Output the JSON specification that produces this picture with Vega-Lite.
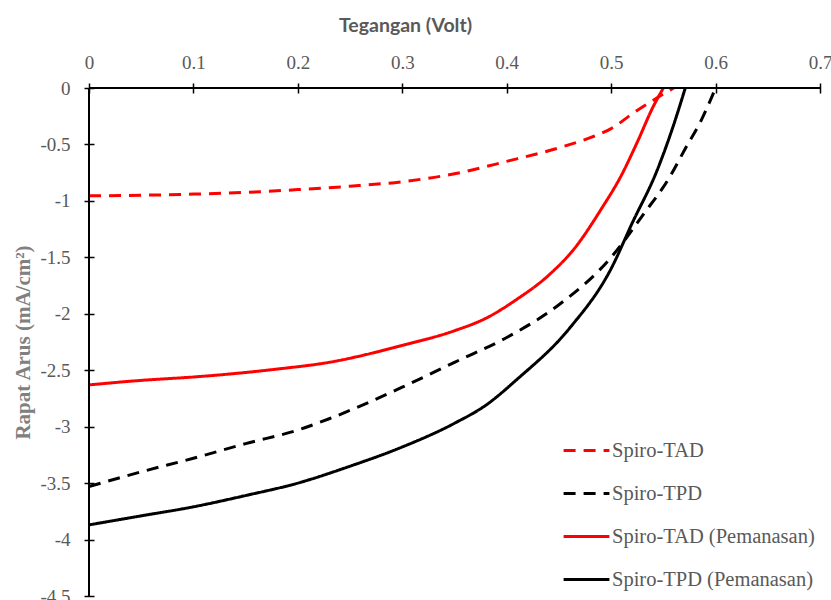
{
  "$schema": "https://vega.github.io/schema/vega-lite/v6.json",
  "width": 731,
  "height": 508,
  "autosize": {"type": "none"},
  "padding": {"left": 89, "top": 88, "right": 11, "bottom": 4},
  "background": "white",
  "config": {"view": {"stroke": null}},
  "data": {"values": [
    {"series": "Spiro-TAD", "v": 0, "j": -0.955},
    {"series": "Spiro-TAD", "v": 0.05, "j": -0.95},
    {"series": "Spiro-TAD", "v": 0.1, "j": -0.94},
    {"series": "Spiro-TAD", "v": 0.15, "j": -0.925},
    {"series": "Spiro-TAD", "v": 0.2, "j": -0.9},
    {"series": "Spiro-TAD", "v": 0.25, "j": -0.87},
    {"series": "Spiro-TAD", "v": 0.3, "j": -0.83},
    {"series": "Spiro-TAD", "v": 0.35, "j": -0.76},
    {"series": "Spiro-TAD", "v": 0.4, "j": -0.65},
    {"series": "Spiro-TAD", "v": 0.45, "j": -0.53},
    {"series": "Spiro-TAD", "v": 0.48, "j": -0.44},
    {"series": "Spiro-TAD", "v": 0.5, "j": -0.36},
    {"series": "Spiro-TAD", "v": 0.52, "j": -0.23},
    {"series": "Spiro-TAD", "v": 0.54, "j": -0.11},
    {"series": "Spiro-TAD", "v": 0.56, "j": 0},
    {"series": "Spiro-TPD", "v": 0, "j": -3.53},
    {"series": "Spiro-TPD", "v": 0.05, "j": -3.4},
    {"series": "Spiro-TPD", "v": 0.1, "j": -3.28},
    {"series": "Spiro-TPD", "v": 0.15, "j": -3.15},
    {"series": "Spiro-TPD", "v": 0.2, "j": -3.03},
    {"series": "Spiro-TPD", "v": 0.23, "j": -2.93},
    {"series": "Spiro-TPD", "v": 0.3, "j": -2.65},
    {"series": "Spiro-TPD", "v": 0.35, "j": -2.43},
    {"series": "Spiro-TPD", "v": 0.4, "j": -2.21},
    {"series": "Spiro-TPD", "v": 0.45, "j": -1.92},
    {"series": "Spiro-TPD", "v": 0.5, "j": -1.5},
    {"series": "Spiro-TPD", "v": 0.53, "j": -1.13},
    {"series": "Spiro-TPD", "v": 0.556, "j": -0.79},
    {"series": "Spiro-TPD", "v": 0.572, "j": -0.52},
    {"series": "Spiro-TPD", "v": 0.585, "j": -0.31},
    {"series": "Spiro-TPD", "v": 0.595, "j": -0.11},
    {"series": "Spiro-TPD", "v": 0.6, "j": 0},
    {"series": "Spiro-TAD (Pemanasan)", "v": 0, "j": -2.63},
    {"series": "Spiro-TAD (Pemanasan)", "v": 0.05, "j": -2.59},
    {"series": "Spiro-TAD (Pemanasan)", "v": 0.1, "j": -2.56},
    {"series": "Spiro-TAD (Pemanasan)", "v": 0.15, "j": -2.52},
    {"series": "Spiro-TAD (Pemanasan)", "v": 0.18, "j": -2.49},
    {"series": "Spiro-TAD (Pemanasan)", "v": 0.23, "j": -2.43},
    {"series": "Spiro-TAD (Pemanasan)", "v": 0.3, "j": -2.28},
    {"series": "Spiro-TAD (Pemanasan)", "v": 0.35, "j": -2.15},
    {"series": "Spiro-TAD (Pemanasan)", "v": 0.38, "j": -2.04},
    {"series": "Spiro-TAD (Pemanasan)", "v": 0.41, "j": -1.87},
    {"series": "Spiro-TAD (Pemanasan)", "v": 0.44, "j": -1.66},
    {"series": "Spiro-TAD (Pemanasan)", "v": 0.465, "j": -1.42},
    {"series": "Spiro-TAD (Pemanasan)", "v": 0.49, "j": -1.08},
    {"series": "Spiro-TAD (Pemanasan)", "v": 0.51, "j": -0.77},
    {"series": "Spiro-TAD (Pemanasan)", "v": 0.525, "j": -0.48},
    {"series": "Spiro-TAD (Pemanasan)", "v": 0.54, "j": -0.17},
    {"series": "Spiro-TAD (Pemanasan)", "v": 0.55, "j": 0},
    {"series": "Spiro-TPD (Pemanasan)", "v": 0, "j": -3.87},
    {"series": "Spiro-TPD (Pemanasan)", "v": 0.05, "j": -3.79},
    {"series": "Spiro-TPD (Pemanasan)", "v": 0.1, "j": -3.71},
    {"series": "Spiro-TPD (Pemanasan)", "v": 0.15, "j": -3.61},
    {"series": "Spiro-TPD (Pemanasan)", "v": 0.2, "j": -3.5},
    {"series": "Spiro-TPD (Pemanasan)", "v": 0.25, "j": -3.35},
    {"series": "Spiro-TPD (Pemanasan)", "v": 0.3, "j": -3.18},
    {"series": "Spiro-TPD (Pemanasan)", "v": 0.35, "j": -2.97},
    {"series": "Spiro-TPD (Pemanasan)", "v": 0.38, "j": -2.81},
    {"series": "Spiro-TPD (Pemanasan)", "v": 0.41, "j": -2.58},
    {"series": "Spiro-TPD (Pemanasan)", "v": 0.46, "j": -2.13},
    {"series": "Spiro-TPD (Pemanasan)", "v": 0.5, "j": -1.6},
    {"series": "Spiro-TPD (Pemanasan)", "v": 0.52, "j": -1.2},
    {"series": "Spiro-TPD (Pemanasan)", "v": 0.544, "j": -0.73},
    {"series": "Spiro-TPD (Pemanasan)", "v": 0.559, "j": -0.35},
    {"series": "Spiro-TPD (Pemanasan)", "v": 0.571, "j": 0}
  ]},
  "layer": [
    {
      "mark": {"type": "line", "strokeWidth": 3, "interpolate": "monotone", "clip": false},
      "encoding": {
        "x": {
          "field": "v", "type": "quantitative",
          "scale": {"domain": [0, 0.7], "nice": false, "zero": false},
          "axis": {
            "orient": "top", "offset": -5, "domain": false, "labelFlush": false,
            "values": [0, 0.1, 0.2, 0.3, 0.4, 0.5, 0.6, 0.7],
            "labelExpr": "'' + datum.value", "grid": false,
            "tickSize": 10, "tickColor": "black", "tickWidth": 1.5,
            "labelFont": "Liberation Serif", "labelFontSize": 19, "labelColor": "#595959", "labelPadding": 11,
            "title": "Tegangan (Volt)",
            "titleFont": "Lato", "titleFontSize": 19.5, "titleFontWeight": "bold", "titleColor": "#595959",
            "titleX": 316, "titleY": -68, "titleBaseline": "middle"
          }
        },
        "y": {
          "field": "j", "type": "quantitative",
          "scale": {"domain": [-4.5, 0], "nice": false, "zero": false},
          "axis": {
            "offset": -5, "domain": false, "labelFlush": false,
            "values": [0, -0.5, -1, -1.5, -2, -2.5, -3, -3.5, -4, -4.5],
            "labelExpr": "'' + datum.value", "grid": false,
            "tickSize": 10, "tickColor": "black", "tickWidth": 1.5,
            "labelFont": "Liberation Serif", "labelFontSize": 19, "labelColor": "#595959", "labelPadding": 14,
            "title": "Rapat Arus (mA/cm²)",
            "titleFont": "Liberation Serif", "titleFontSize": 21, "titleFontWeight": "bold", "titleColor": "#808080",
            "titlePadding": 6
          }
        },
        "color": {
          "field": "series", "type": "nominal",
          "scale": {"domain": ["Spiro-TAD", "Spiro-TPD", "Spiro-TAD (Pemanasan)", "Spiro-TPD (Pemanasan)"], "range": ["#ff0000", "#000000", "#ff0000", "#000000"]},
          "legend": {
            "orient": "none", "legendX": 473, "legendY": 338, "title": null,
            "symbolType": "stroke", "symbolSize": 2100, "symbolStrokeWidth": 3,
            "labelFont": "Liberation Serif", "labelFontSize": 20.5, "labelColor": "#595959", "labelLimit": 400,
            "labelOffset": 1, "rowPadding": 8, "symbolOffset": 0
          }
        },
        "strokeDash": {
          "field": "series", "type": "nominal",
          "scale": {"domain": ["Spiro-TAD", "Spiro-TPD", "Spiro-TAD (Pemanasan)", "Spiro-TPD (Pemanasan)"], "range": [[12, 8], [12, 8], [1, 0], [1, 0]]},
          "legend": {
            "orient": "none", "legendX": 473, "legendY": 338, "title": null,
            "symbolType": "stroke", "symbolSize": 2100, "symbolStrokeWidth": 3,
            "labelFont": "Liberation Serif", "labelFontSize": 20.5, "labelColor": "#595959", "labelLimit": 400,
            "labelOffset": 1, "rowPadding": 8, "symbolOffset": 0
          }
        }
      }
    },
    {
      "mark": {"type": "rule", "color": "black", "strokeWidth": 1.5},
      "encoding": {
        "x": {"datum": 0, "type": "quantitative"},
        "x2": {"datum": 0.7},
        "y": {"datum": 0, "type": "quantitative"}
      }
    },
    {
      "mark": {"type": "rule", "color": "black", "strokeWidth": 1.5},
      "encoding": {
        "x": {"datum": 0, "type": "quantitative"},
        "y": {"datum": 0, "type": "quantitative"},
        "y2": {"datum": -4.5}
      }
    }
  ]
}
